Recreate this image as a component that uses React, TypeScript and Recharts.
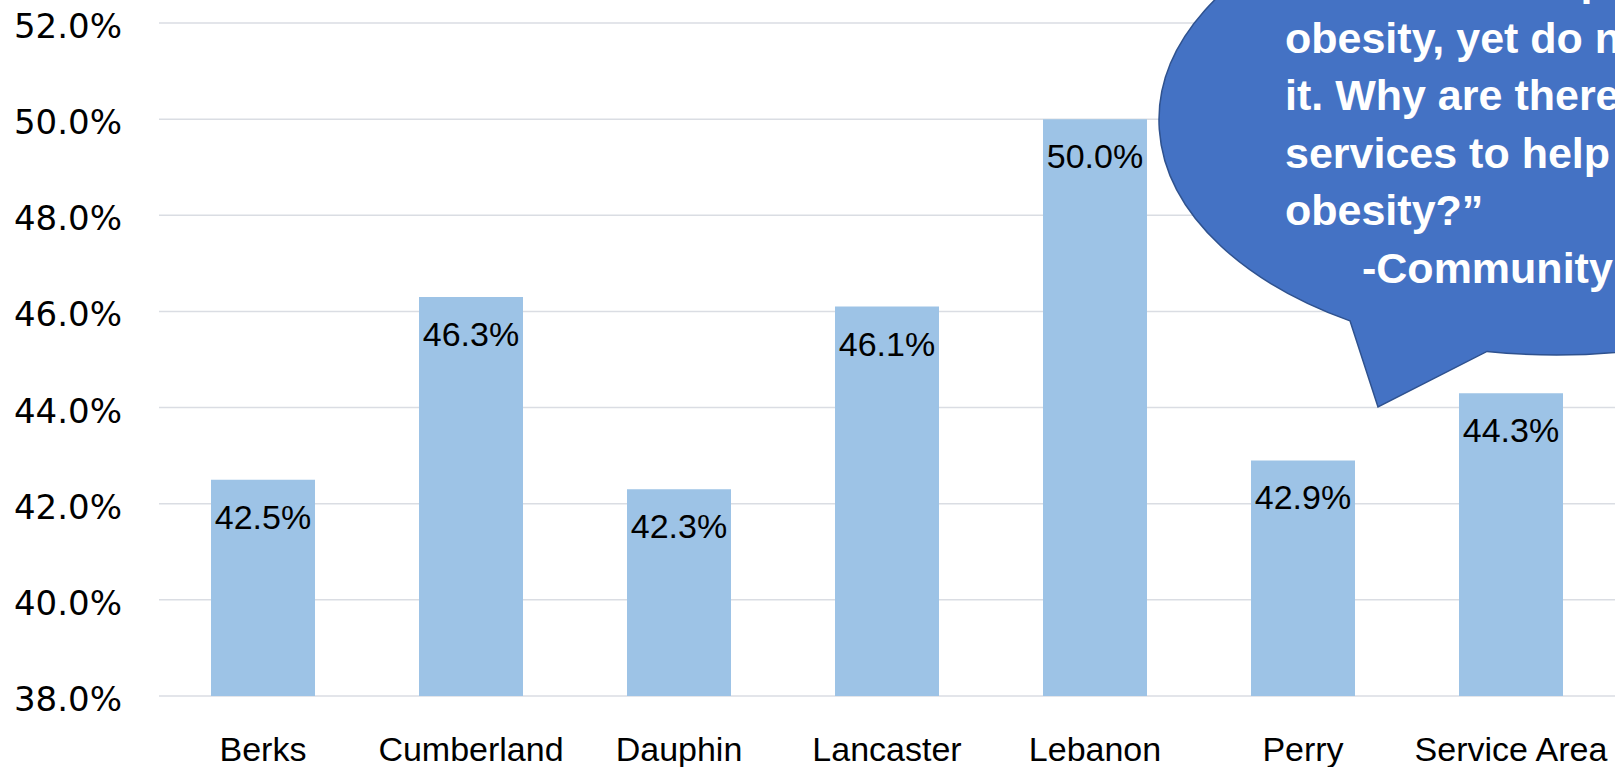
import React from "react";
import { BarChart, Bar, XAxis, YAxis, CartesianGrid, LabelList, Customized } from "recharts";

const categories = ["Berks", "Cumberland", "Dauphin", "Lancaster", "Lebanon", "Perry", "Service Area"];
const values = [0.425, 0.463, 0.423, 0.461, 0.5, 0.429, 0.443];
const yTicks = [0.38, 0.4, 0.42, 0.44, 0.46, 0.48, 0.5, 0.52];
const quoteLines = [
  "\u201CWe know the problem of",
  "obesity, yet do not know how to treat",
  "it. Why are there not more",
  "services to help fight",
  "obesity?\u201D",
];
const quoteAuthor = "-Community Member";

const data = categories.map((name, i) => ({ name, value: values[i] }));

const W = 1615;
const H = 767;
const BAR = "#9DC3E6";
const GRID = "#DADDE3";

const pct = (v: number) => `${(v * 100).toFixed(1)}%`;

const YTick = (props: any) => {
  const { x, y, payload } = props;
  return (
    <text x={x} y={y + 3} textAnchor="end" dominantBaseline="central" fontFamily="DejaVu Sans" fontSize={34} fill="#000">
      {pct(payload.value)}
    </text>
  );
};

const XTick = (props: any) => {
  const { x, y, payload } = props;
  return (
    <text x={x} y={y + 65} textAnchor="middle" fontFamily="Liberation Sans" fontSize={34} fill="#000">
      {payload.value}
    </text>
  );
};

const BarLabel = (props: any) => {
  const { x, y, width, value } = props;
  return (
    <text x={x + width / 2} y={y + 49} textAnchor="middle" fontFamily="Liberation Sans" fontSize={34} fill="#000">
      {pct(value)}
    </text>
  );
};

const Bubble = () => {
  const cx = 1556;
  const cy = 120;
  const rx = 397;
  const ry = 235;
  const ax = 1350;
  const ay = cy + ry * Math.sqrt(1 - ((ax - cx) / rx) ** 2);
  const bx = 1487;
  const by = cy + ry * Math.sqrt(1 - ((bx - cx) / rx) ** 2);
  const tipX = 1378;
  const tipY = 407;
  const d = `M ${ax} ${ay} A ${rx} ${ry} 0 1 1 ${bx} ${by} L ${tipX} ${tipY} Z`;
  const baselines = [-5, 52.5, 110, 167.5, 225];
  return (
    <g>
      <path d={d} fill="#4472C4" stroke="#2F528F" strokeWidth={1.5} />
      {quoteLines.map((t, i) => (
        <text key={i} x={1285} y={baselines[i]} fontFamily="Liberation Sans" fontWeight="bold" fontSize={43} fill="#fff">
          {t}
        </text>
      ))}
      <text x={1362} y={282.5} fontFamily="Liberation Sans" fontWeight="bold" fontSize={43} fill="#fff">
        {quoteAuthor}
      </text>
    </g>
  );
};

export default function App() {
  return (
    <div style={{ position: "absolute", left: 0, top: 0, width: W, height: H, overflow: "hidden", background: "#fff" }}>
      <BarChart width={W} height={H} data={data} margin={{ top: 23, right: 0, left: 0, bottom: 0 }} barCategoryGap="25%">
        <CartesianGrid vertical={false} stroke={GRID} strokeWidth={1.5} />
        <XAxis dataKey="name" axisLine={false} tickLine={false} tickSize={0} tickMargin={0} height={71} interval={0} tick={<XTick />} />
        <YAxis
          domain={[0.38, 0.52]}
          ticks={yTicks}
          width={159}
          axisLine={false}
          tickLine={false}
          tickSize={0}
          tickMargin={37}
          interval={0}
          tick={<YTick />}
        />
        <Bar dataKey="value" fill={BAR} isAnimationActive={false}>
          <LabelList dataKey="value" content={<BarLabel />} />
        </Bar>
        <Customized component={Bubble} />
      </BarChart>
    </div>
  );
}
